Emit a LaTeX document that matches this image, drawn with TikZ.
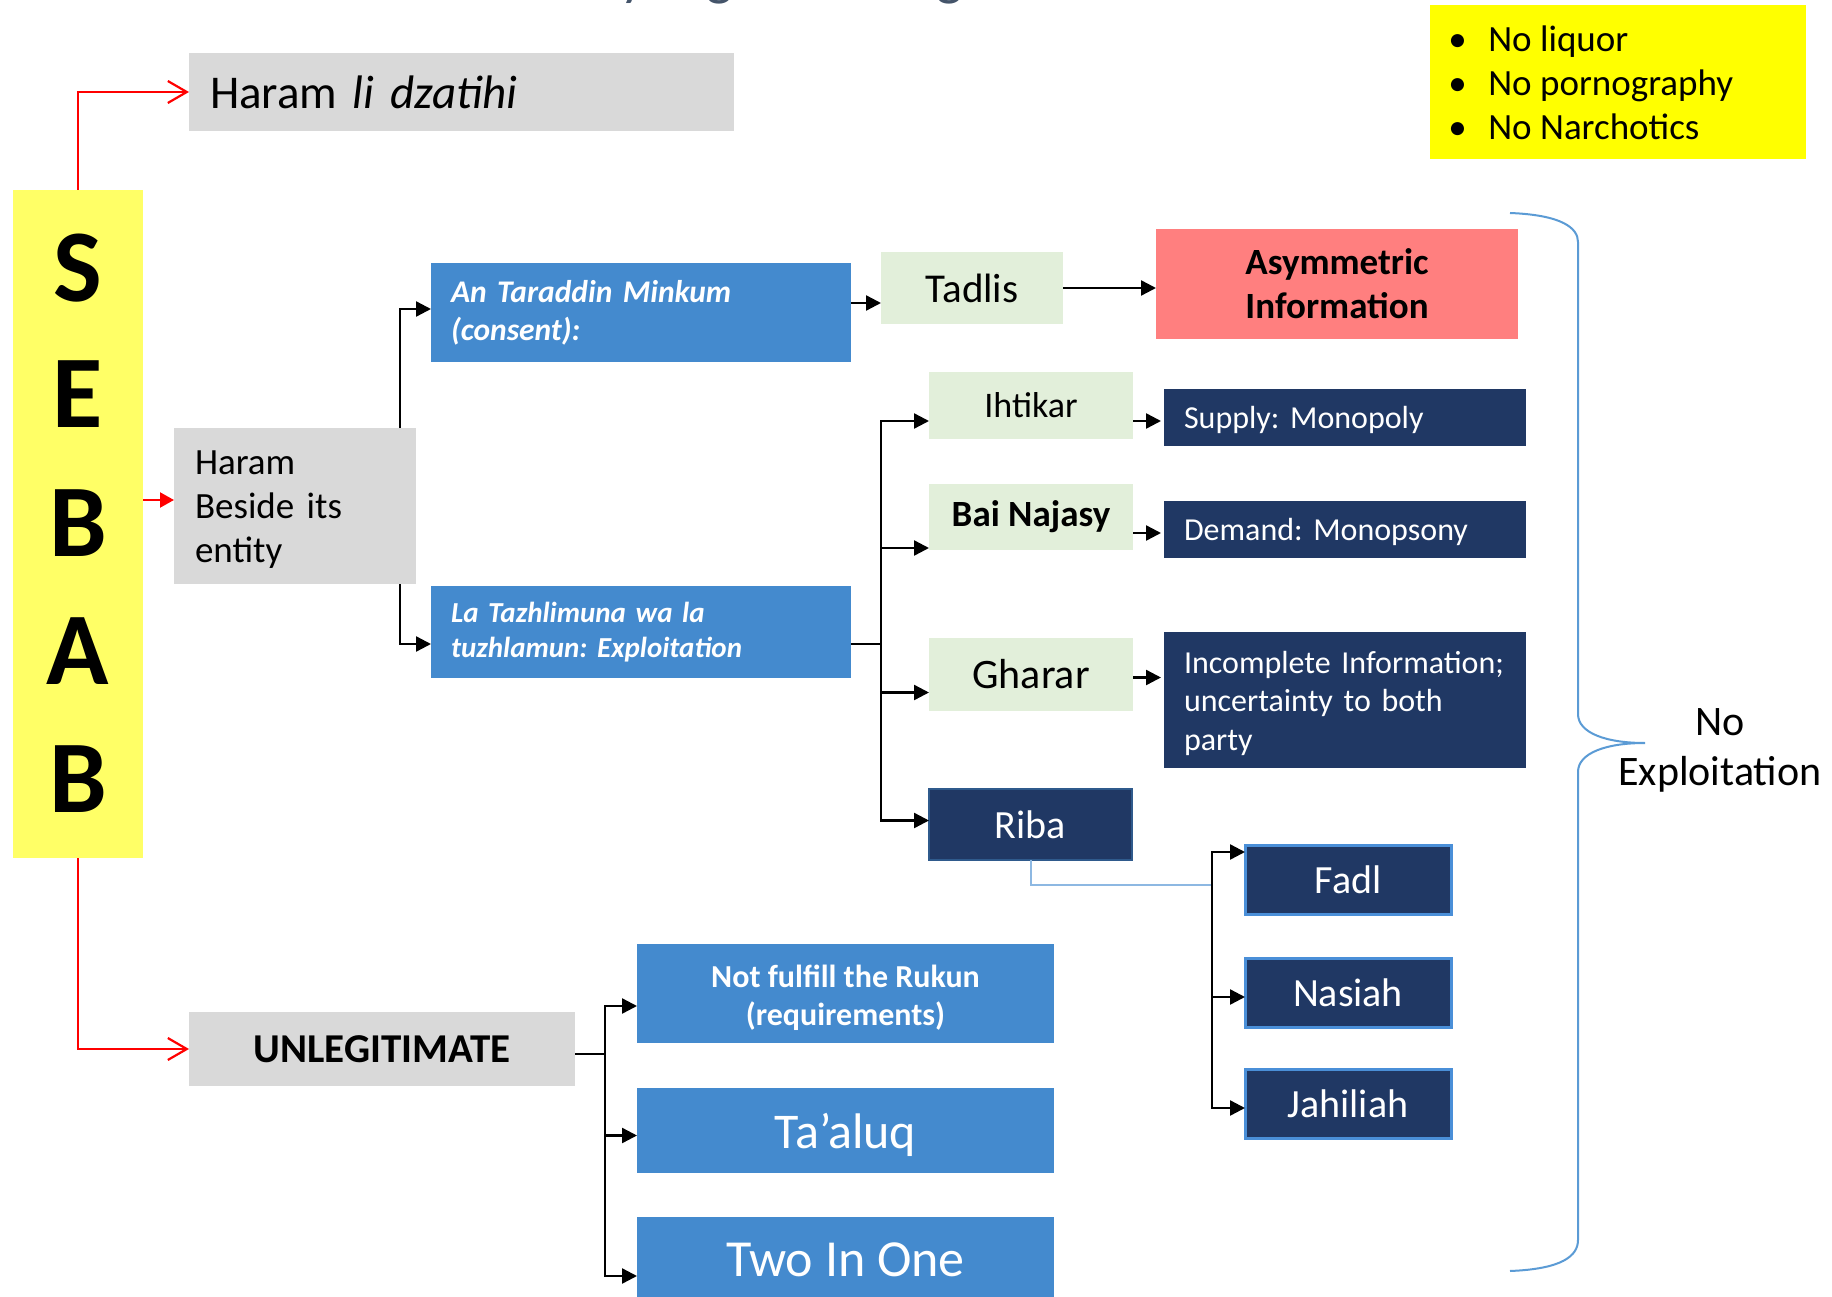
\documentclass[tikz,border=0pt]{standalone}
\usepackage{fontspec}
\setmainfont{Carlito}
\usetikzlibrary{arrows.meta}

\definecolor{boxgray}{HTML}{D9D9D9}
\definecolor{boxblue}{HTML}{448ACE}
\definecolor{boxnavy}{HTML}{203864}
\definecolor{boxgreen}{HTML}{E2EFDA}
\definecolor{boxsalmon}{HTML}{FF7F7F}
\definecolor{sebabyellow}{HTML}{FFFF66}
\definecolor{noteyellow}{HTML}{FFFF00}
\definecolor{bracecol}{HTML}{5B9BD5}
\definecolor{ribalink}{HTML}{8DB8E2}
\definecolor{ribaedge}{HTML}{2F5A8C}
\definecolor{navyedge}{HTML}{4A8FD8}
\definecolor{titlecol}{HTML}{44546A}

\newcommand\fsz[2]{\fontsize{#1}{#2}\selectfont}

\begin{document}
\frenchspacing
\begin{tikzpicture}[x=1pt,y=-1pt,
  every node/.style={outer sep=0pt},
  box/.style={anchor=north west, inner ysep=0pt, align=center},
  grayb/.style={box, fill=boxgray, text=black},
  blueb/.style={box, fill=boxblue, text=white},
  navyb/.style={box, fill=boxnavy, text=white},
  greenb/.style={box, fill=boxgreen, text=black},
  subb/.style={navyb, draw=navyedge, line width=3pt, minimum width=206pt, minimum height=69pt, font=\fsz{40}{48}},
  conn/.style={line width=2.4pt, black},
  arr/.style={conn, -{Triangle[length=15pt,width=15pt]}},
  redl/.style={line width=2.2pt, red},
  titlefrag/.style={anchor=base, text=titlecol, font=\fsz{56}{60}},
  sebabletter/.style={anchor=base, font=\fsz{103}{110}\bfseries},
  bullet/.style={anchor=base west, font=\fsz{37}{44}},
  boxtext/.style={inner sep=0pt, align=left},
]
\useasboundingbox (0,0) rectangle (1832,1297);
\fill[white] (0,0) rectangle (1832,1297);

% fragments of the heading, cut by the top edge
\node[titlefrag] (ttl1) at (633,-5) {y};
\node[titlefrag] (ttl2) at (720,-5) {g};
\node[titlefrag] (ttl3) at (950,-5) {g};

% note box
\node[box, fill=noteyellow, minimum width=376pt, minimum height=154pt] (notes) at (1430,5) {};
\node[bullet] (n1) at (1445,51.5) {\makebox[40pt][l]{\textbullet}No liquor};
\node[bullet] (n2) at (1445,95.5) {\makebox[40pt][l]{\textbullet}No pornography};
\node[bullet] (n3) at (1445,139.5) {\makebox[40pt][l]{\textbullet}No Narchotics};

% SEBAB column
\node[box, fill=sebabyellow, minimum width=130pt, minimum height=668pt] (sebab) at (13,190) {};
\node[sebabletter] (l1) at (78,302) {S};
\node[sebabletter] (l2) at (78,428) {E};
\node[sebabletter] (l3) at (78,556) {B};
\node[sebabletter] (l4) at (78,684) {A};
\node[sebabletter] (l5) at (78,812) {B};

% first level
\node[grayb, minimum width=545pt, minimum height=78pt, text width=503pt, inner xsep=21pt, align=left, font=\fsz{47}{56}] (dzat) at (189,53) {Haram \textit{li dzatihi}};
\node[grayb, minimum width=242pt, minimum height=156pt] (beside) at (174,428) {};
\node[boxtext, text width=200pt, font=\fsz{37}{44}] (besidet) at ([yshift=-3.5pt]beside.center) {Haram\\Beside its\\entity};
\node[grayb, minimum width=386pt, minimum height=74pt, font=\fsz{41}{48}\bfseries] (unleg) at (189,1012) {UNLEGITIMATE};

% second level
\node[blueb, minimum width=420pt, minimum height=99pt, text width=380pt, inner xsep=20pt, align=left, font=\fsz{31.5}{38}\bfseries\itshape] (taraddin) at (431,263) {An Taraddin Minkum\\(consent):};
\node[blueb, minimum width=420pt, minimum height=92pt, text width=380pt, inner xsep=20pt, align=left, font=\fsz{29}{35}\bfseries\itshape] (tazh) at (431,586) {La Tazhlimuna wa la\\tuzhlamun: Exploitation};

\node[blueb, minimum width=417pt, minimum height=99pt] (rukun) at (637,944) {};
\node[boxtext, align=center, text=white, font=\fsz{32}{38}\bfseries] (rukunt) at ([yshift=-4pt]rukun.center) {Not fulfill the Rukun\\(requirements)};
\node[blueb, minimum width=417pt, minimum height=85pt, text depth=0pt, font=\fsz{50}{58}] (taaluq) at (637,1088) {Ta’aluq};
\node[blueb, minimum width=417pt, minimum height=86pt, font=\fsz{52}{60}] (twoinone) at (637,1217) {Two In One};

% third level
\node[greenb, minimum width=182pt, minimum height=72pt, font=\fsz{41}{48}] (tadlis) at (881,252) {Tadlis};
\node[box, fill=boxsalmon, minimum width=362pt, minimum height=110pt, font=\fsz{37}{44}\bfseries] (asym) at (1156,229) {Asymmetric\\Information};

\node[greenb, minimum width=204pt, minimum height=67pt, font=\fsz{36}{43}] (ihtikar) at (929,372) {Ihtikar};
\node[greenb, minimum width=204pt, minimum height=66pt, font=\fsz{37}{44}\bfseries] (najasy) at (929,484) {Bai Najasy};
\node[greenb, minimum width=204pt, minimum height=73pt, font=\fsz{42}{50}] (gharar) at (929,638) {Gharar};
\node[navyb, draw=ribaedge, line width=1.5pt, minimum width=203pt, minimum height=71pt, font=\fsz{40}{48}] (riba) at (929,789) {Riba};

\node[navyb, minimum width=362pt, minimum height=57pt, text width=322pt, inner xsep=20pt, align=left, text depth=0pt, font=\fsz{32}{38}] (supply) at (1164,389) {Supply: Monopoly};
\node[navyb, minimum width=362pt, minimum height=57pt, text width=322pt, inner xsep=20pt, align=left, text depth=0pt, font=\fsz{32}{38}] (demand) at (1164,501) {Demand: Monopsony};
\node[navyb, minimum width=362pt, minimum height=136pt] (incompl) at (1164,632) {};
\node[boxtext, text=white, text width=322pt, font=\fsz{32}{38.5}] (incomplt) at ([yshift=-3pt]incompl.center) {Incomplete Information;\\uncertainty to both\\party};

\node[subb] (fadl) at (1245,845) {Fadl};
\node[subb] (nasiah) at (1245,958) {Nasiah};
\node[subb] (jahiliah) at (1245,1069) {Jahiliah};

% brace and its label
\draw[bracecol, line width=2pt]
  (1510,213) .. controls (1562,215) and (1578,228) .. (1578,242)
  -- (1578,714) .. controls (1578,733) and (1606,743) .. (1645,743)
  .. controls (1606,743) and (1578,753) .. (1578,772)
  -- (1578,1240) .. controls (1578,1256) and (1562,1269) .. (1510,1271);
\node[align=center, font=\fsz{42}{50}] (noexp) at (1720,750) {No\\Exploitation};

% red links from SEBAB
\coordinate (bsin) at ([yshift=6pt]beside.west);
\draw[redl, -{Straight Barb[length=19pt,width=22pt]}] (sebab.north) |- (dzat.west);
\draw[redl, -{Triangle[length=14pt,width=15pt]}] (sebab.east |- bsin) -- (bsin);
\draw[redl, -{Straight Barb[length=19pt,width=22pt]}] (sebab.south) |- (unleg.west);

% Haram beside its entity
\draw[arr] ([xshift=-16pt]beside.north east) |- ([yshift=3.5pt]taraddin.west);
\draw[arr] ([xshift=-16pt]beside.south east) |- ([yshift=-12pt]tazh.west);

% consent branch
\coordinate (tadin) at ([yshift=-15pt]tadlis.west);
\draw[arr] (taraddin.east |- tadin) -- (tadin);
\draw[arr] (tadlis.east) -- (tadlis.east -| asym.west);

% exploitation branch
\coordinate (bus) at (881,644);
\draw[conn] (bus -| tazh.east) -- (bus);
\draw[arr] (bus) |- ([yshift=-15.5pt]ihtikar.west);
\draw[arr] (bus) |- ([yshift=-31pt]najasy.west);
\draw[arr] (bus) |- ([yshift=-18pt]gharar.west);
\draw[arr] (bus) |- ([yshift=4pt]riba.west);

\draw[arr, shorten >=3pt] ([yshift=-15.5pt]ihtikar.east) -- ([yshift=-15.5pt]ihtikar.east -| supply.west);
\draw[arr, shorten >=3pt] ([yshift=-16pt]najasy.east) -- ([yshift=-16pt]najasy.east -| demand.west);
\draw[arr, shorten >=3pt] ([yshift=-3pt]gharar.east) -- ([yshift=-3pt]gharar.east -| incompl.west);

% kinds of riba
\coordinate (rjoin) at (1212,885);
\draw[ribalink, line width=2pt] (riba.south) |- (rjoin);
\draw[arr] (rjoin) |- ([yshift=27.5pt]fadl.west);
\draw[arr] (rjoin) |- ([yshift=-4.5pt]nasiah.west);
\draw[arr] (rjoin) |- ([yshift=-4.5pt]jahiliah.west);

% unlegitimate branch
\coordinate (ubus) at (605,1054);
\draw[conn] (ubus -| unleg.east) -- (ubus);
\draw[arr] (ubus) |- ([yshift=-12.5pt]rukun.west);
\draw[arr] (ubus) |- ([yshift=-5pt]taaluq.west);
\draw[arr] (ubus) |- ([yshift=-16pt]twoinone.west);
\end{tikzpicture}
\end{document}
